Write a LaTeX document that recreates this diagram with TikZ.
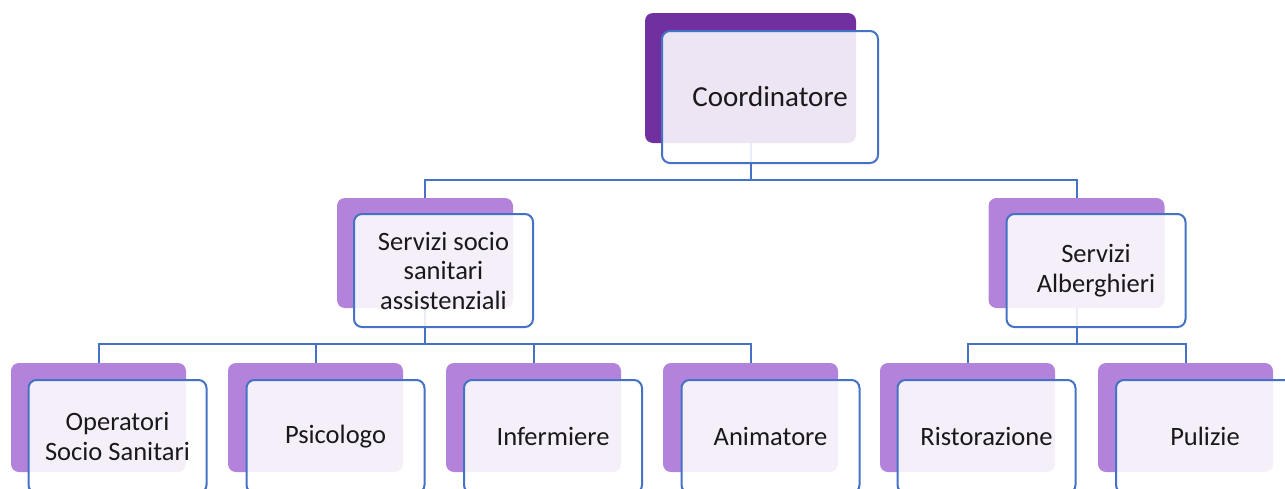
\documentclass[tikz,border=0pt]{standalone}
\usepackage{fontspec}
\setmainfont{Carlito}
\definecolor{darkpurple}{RGB}{112,48,160}
\definecolor{lightpurple}{RGB}{179,130,218}
\definecolor{blueline}{RGB}{68,114,196}
\definecolor{textcol}{RGB}{25,25,25}
\tikzset{
  backbox/.style={rounded corners=8pt, fill=#1, draw=none, inner sep=0pt},
  frontbox/.style={rounded corners=8pt, draw=blueline, line width=2pt, fill=white,
    fill opacity=0.88, text opacity=1, text=textcol, align=center, inner sep=0pt},
  lvtwo/.style={minimum width=176pt, minimum height=110pt},
  lvtwof/.style={minimum width=179pt, minimum height=113pt, font=\fontsize{26.5}{29.5}\selectfont},
  lvthree/.style={minimum width=175pt, minimum height=109pt},
  lvthreef/.style={minimum width=178pt, minimum height=113pt, font=\fontsize{26.5}{29.5}\selectfont},
  conn/.style={draw=blueline, line width=2pt}
}
\begin{document}
\begin{tikzpicture}[x=1pt,y=-1pt]
\useasboundingbox (0,0) rectangle (1285,488);
\clip (0,0) rectangle (1285,488);
% back boxes
\node[backbox=darkpurple, minimum width=211pt, minimum height=130pt] (cb) at (750.5,78) {};
\node[backbox=lightpurple, lvtwo] (s1b) at (425,253) {};
\node[backbox=lightpurple, lvtwo] (s2b) at (1076.5,253) {};
\node[backbox=lightpurple, lvthree] (t1b) at (98.5,417.5) {};
\node[backbox=lightpurple, lvthree] (t2b) at (315.5,417.5) {};
\node[backbox=lightpurple, lvthree] (t3b) at (533.5,417.5) {};
\node[backbox=lightpurple, lvthree] (t4b) at (750.5,417.5) {};
\node[backbox=lightpurple, lvthree] (t5b) at (967.5,417.5) {};
\node[backbox=lightpurple, lvthree] (t6b) at (1185.5,417.5) {};
% connectors
\draw[conn] (cb.south) -- (cb.south |- 0,180) -| (s1b.north);
\draw[conn] (cb.south |- 0,180) -| (s2b.north);
\draw[conn] (s1b.south) -- (s1b.south |- 0,344) -| (t1b.north);
\draw[conn] (s1b.south |- 0,344) -| (t2b.north);
\draw[conn] (s1b.south |- 0,344) -| (t3b.north);
\draw[conn] (s1b.south |- 0,344) -| (t4b.north);
\draw[conn] (s2b.south) -- (s2b.south |- 0,344) -| (t5b.north);
\draw[conn] (s2b.south |- 0,344) -| (t6b.north);
% front boxes
\node[frontbox, minimum width=216pt, minimum height=132pt, font=\fontsize{29}{32}\selectfont] (cf) at (770,97) {Coordinatore};
\node[frontbox, lvtwof] (s1f) at (443.5,270.5) {Servizi socio\\sanitari\\assistenziali};
\node[frontbox, lvtwof] (s2f) at (1096,270.5) {Servizi\\Alberghieri};
\node[frontbox, lvthreef] (t1f) at (117.5,436.5) {Operatori\\Socio Sanitari};
\node[frontbox, lvthreef] (t2f) at (335.5,436.5) {Psicologo};
\node[frontbox, lvthreef] (t3f) at (553,436.5) {Infermiere};
\node[frontbox, lvthreef] (t4f) at (770.5,436.5) {Animatore};
\node[frontbox, lvthreef] (t5f) at (986.5,436.5) {Ristorazione};
\node[frontbox, lvthreef] (t6f) at (1205,436.5) {Pulizie};
\end{tikzpicture}
\end{document}
